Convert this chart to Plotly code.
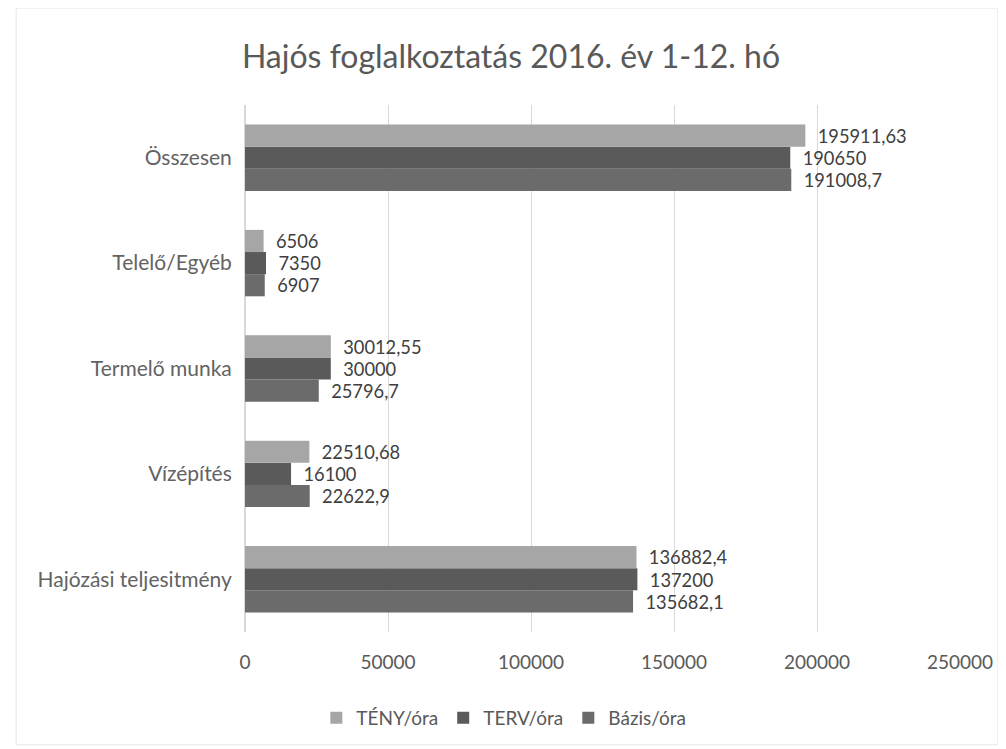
import plotly.graph_objects as go

categories = ["Hajózási teljesitmény", "Vízépítés", "Termelő munka", "Telelő/Egyéb", "Összesen"]
teny = [136882.4, 22510.68, 30012.55, 6506, 195911.63]
terv = [137200, 16100, 30000, 7350, 190650]
bazis = [135682.1, 22622.9, 25796.7, 6907, 191008.7]
x_ticks = [0, 50000, 100000, 150000, 200000, 250000]

def fmt(v):
    s = ("%s" % v)
    if s.endswith(".0"):
        s = s[:-2]
    return "  " + s.replace(".", ",")

font_family = "Lato, 'Noto Sans', sans-serif"
label_color = "#404040"

fig = go.Figure()
series = [("Bázis/óra", bazis, "#6b6b6b"),
          ("TERV/óra", terv, "#5a5a5a"),
          ("TÉNY/óra", teny, "#a6a6a6")]
for name, vals, col in series:
    fig.add_trace(go.Bar(
        y=categories, x=vals, name=name, orientation="h",
        marker=dict(color=col, line=dict(width=0)),
        text=[fmt(v) for v in vals], textposition="outside",
        textfont=dict(size=19, color=label_color, family=font_family),
        cliponaxis=False,
    ))

fig.update_layout(
    barmode="group", bargap=0.37, bargroupgap=0,
    width=1006, height=749,
    paper_bgcolor="white", plot_bgcolor="white",
    margin=dict(l=237, r=54, t=97, b=125),
    title=dict(text="Hajós foglalkoztatás 2016. év 1-12. hó", x=0.5, xanchor="center",
               y=0.9346, yanchor="middle",
               font=dict(size=32, color="#595959", family=font_family)),
    font=dict(family=font_family, color="#595959"),
    legend=dict(orientation="h", traceorder="reversed", x=0.362, xanchor="center",
                y=-0.163, yanchor="middle", font=dict(size=19, color="#595959"),
                itemwidth=30),
    showlegend=True,
)
fig.update_xaxes(range=[0, 250000], tickvals=x_ticks, ticktext=[str(t) for t in x_ticks],
                 showgrid=True, gridcolor="#d9d9d9", gridwidth=1,
                 zeroline=True, zerolinecolor="#d9d9d9",
                 ticks="outside", ticklen=13, tickcolor="rgba(0,0,0,0)",
                 tickfont=dict(size=19, color="#595959"), showline=False)
fig.update_yaxes(showgrid=False, ticks="outside", ticklen=8, tickcolor="rgba(0,0,0,0)",
                 tickfont=dict(size=21, color="#636363"), showline=False)

fig.add_shape(type="rect", xref="paper", yref="paper",
              x0=-0.320, x1=1.053, y0=-0.214, y1=1.184,
              line=dict(color="#e6e6e6", width=1))

fig.write_html("out.html")
